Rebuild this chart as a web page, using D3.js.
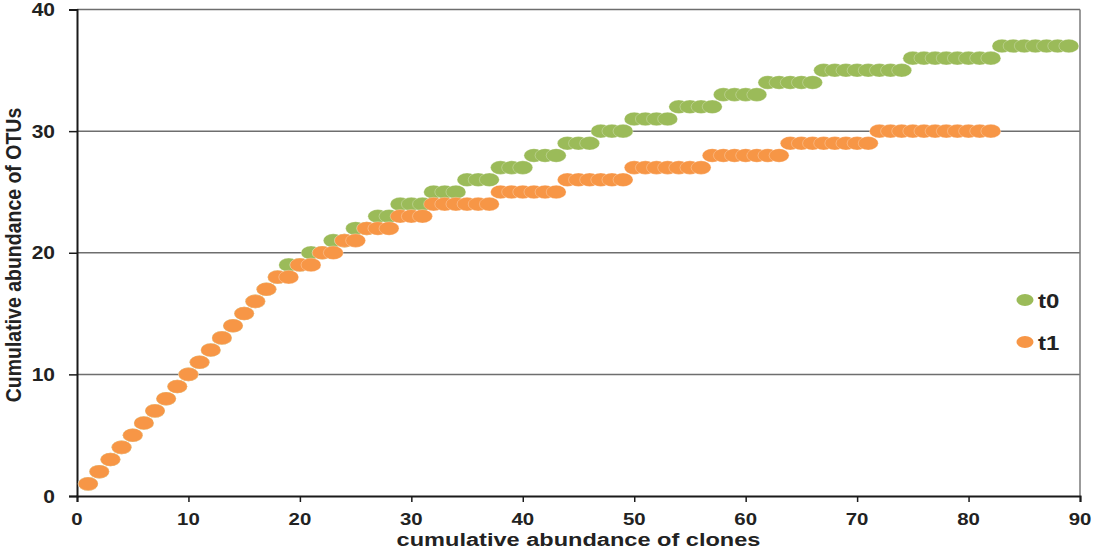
<!DOCTYPE html>
<html>
<head>
    <title>Cumulative OTUs</title>
    <script src="https://cdnjs.cloudflare.com/ajax/libs/d3/7.8.5/d3.min.js"></script>
    <style>
        body{
            margin: 0;
            background: #fff;
        }
        text{
            font-family: "Liberation Sans", Arial, sans-serif;
            font-weight: bold;
            fill: #222;
        }
    </style>
</head>
<body>
    <svg id="chart" width="1095" height="550"></svg>

    <script>
        // clones counted along x (1..n), OTUs found so far for each sample
        var t0Values = [1, 2, 3, 4, 5, 6, 7, 8, 9, 10, 11, 12, 13, 14, 15, 16, 17, 18,
            19, 19, 20, 20, 21, 21, 22, 22, 23, 23, 24, 24, 24, 25, 25, 25, 26, 26, 26,
            27, 27, 27, 28, 28, 28, 29, 29, 29, 30, 30, 30, 31, 31, 31, 31, 32, 32, 32, 32,
            33, 33, 33, 33, 34, 34, 34, 34, 34, 35, 35, 35, 35, 35, 35, 35, 35,
            36, 36, 36, 36, 36, 36, 36, 36, 37, 37, 37, 37, 37, 37, 37];
        var t1Values = [1, 2, 3, 4, 5, 6, 7, 8, 9, 10, 11, 12, 13, 14, 15, 16, 17,
            18, 18, 19, 19, 20, 20, 21, 21, 22, 22, 22, 23, 23, 23,
            24, 24, 24, 24, 24, 24, 25, 25, 25, 25, 25, 25, 26, 26, 26, 26, 26, 26,
            27, 27, 27, 27, 27, 27, 27, 28, 28, 28, 28, 28, 28, 28,
            29, 29, 29, 29, 29, 29, 29, 29, 30, 30, 30, 30, 30, 30, 30, 30, 30, 30, 30];
        var seriesNames = ["t0", "t1"];
        var seriesColors = ["#9bbb59", "#f79646"];
        var xTicks = [0, 10, 20, 30, 40, 50, 60, 70, 80, 90];
        var yTicks = [0, 10, 20, 30, 40];
        var xTitle = "cumulative abundance of clones";
        var yTitle = "Cumulative abundance of OTUs";

        var svg = d3.select("#chart");
        var stretch = 1.2;   // the original export is a bit wide

        var xScale = d3.scaleLinear().domain([0, 90]).range([77, 1080]);
        var yScale = d3.scaleLinear().domain([0, 40]).range([496, 9.5]);

        // grid
        svg.append("g").selectAll("line")
            .data(yTicks.slice(1))
            .enter()
            .append("line")
            .attr("x1", xScale(0))
            .attr("x2", xScale(90))
            .attr("y1", d => yScale(d))
            .attr("y2", d => yScale(d))
            .attr("stroke", "#6e6e6e")
            .attr("stroke-width", 1.5);

        // right border
        svg.append("line")
            .attr("x1", xScale(90)).attr("x2", xScale(90))
            .attr("y1", yScale(40)).attr("y2", yScale(0))
            .attr("stroke", "#7a7a7a")
            .attr("stroke-width", 1.5);

        var xAxis = d3.axisBottom(xScale).tickValues(xTicks).tickSize(6).tickFormat(d3.format("d"));
        var yAxis = d3.axisLeft(yScale).tickValues(yTicks).tickSize(8).tickFormat(d3.format("d"));

        var xAxisG = svg.append("g")
            .attr("transform", `translate(0,${yScale(0)})`)
            .call(xAxis);
        var yAxisG = svg.append("g")
            .attr("transform", `translate(${xScale(0)},0)`)
            .call(yAxis);

        [xAxisG, yAxisG].forEach(g => {
            g.select(".domain").attr("stroke", "#1a1a1a").attr("stroke-width", 2);
            g.selectAll(".tick line").attr("stroke", "#1a1a1a").attr("stroke-width", 1.5);
            g.selectAll("text").remove();
        });

        // tick labels drawn by hand so they can be widened like the original
        svg.append("g").selectAll("text")
            .data(xTicks)
            .enter()
            .append("text")
            .attr("transform", d => `translate(${xScale(d)},524.5) scale(${stretch},1)`)
            .attr("text-anchor", "middle")
            .style("font-size", "17px")
            .text(d => d);

        svg.append("g").selectAll("text")
            .data(yTicks)
            .enter()
            .append("text")
            .attr("transform", d => `translate(55,${yScale(d) + 6.5}) scale(${stretch},1)`)
            .attr("text-anchor", "end")
            .style("font-size", "17.5px")
            .text(d => d);

        svg.append("text")
            .attr("transform", `translate(${(387 + 770) / 2},545.5) scale(1.24,1)`)
            .attr("text-anchor", "middle")
            .style("font-size", "19px")
            .text(xTitle);

        svg.append("text")
            .attr("transform", `translate(21,${yScale(0) - 241}) rotate(-90) scale(1,1.12)`)
            .attr("text-anchor", "middle")
            .style("font-size", "19.5px")
            .text(yTitle);

        // points, t0 first so t1 sits on top
        var allSeries = [t0Values, t1Values];
        allSeries.forEach((vals, i) => {
            svg.append("g").selectAll("ellipse")
                .data(vals)
                .enter()
                .append("ellipse")
                .attr("cx", (d, j) => xScale(j + 1))
                .attr("cy", d => yScale(d))
                .attr("rx", 10)
                .attr("ry", 6.8)
                .attr("fill", seriesColors[i])
                .attr("stroke", "#fff")
                .attr("stroke-opacity", 0.35)
                .attr("stroke-width", 0.8);
        });

        // legend
        var legend = svg.append("g").selectAll("g")
            .data(seriesNames)
            .enter()
            .append("g")
            .attr("transform", (d, i) => `translate(1025,${300 + i * 42})`);

        legend.append("ellipse")
            .attr("rx", 8.5)
            .attr("ry", 6)
            .attr("fill", (d, i) => seriesColors[i]);

        legend.append("text")
            .attr("transform", `translate(13,7.5) scale(${stretch},1)`)
            .style("font-size", "20px")
            .text(d => d);
    </script>
</body>
</html>
